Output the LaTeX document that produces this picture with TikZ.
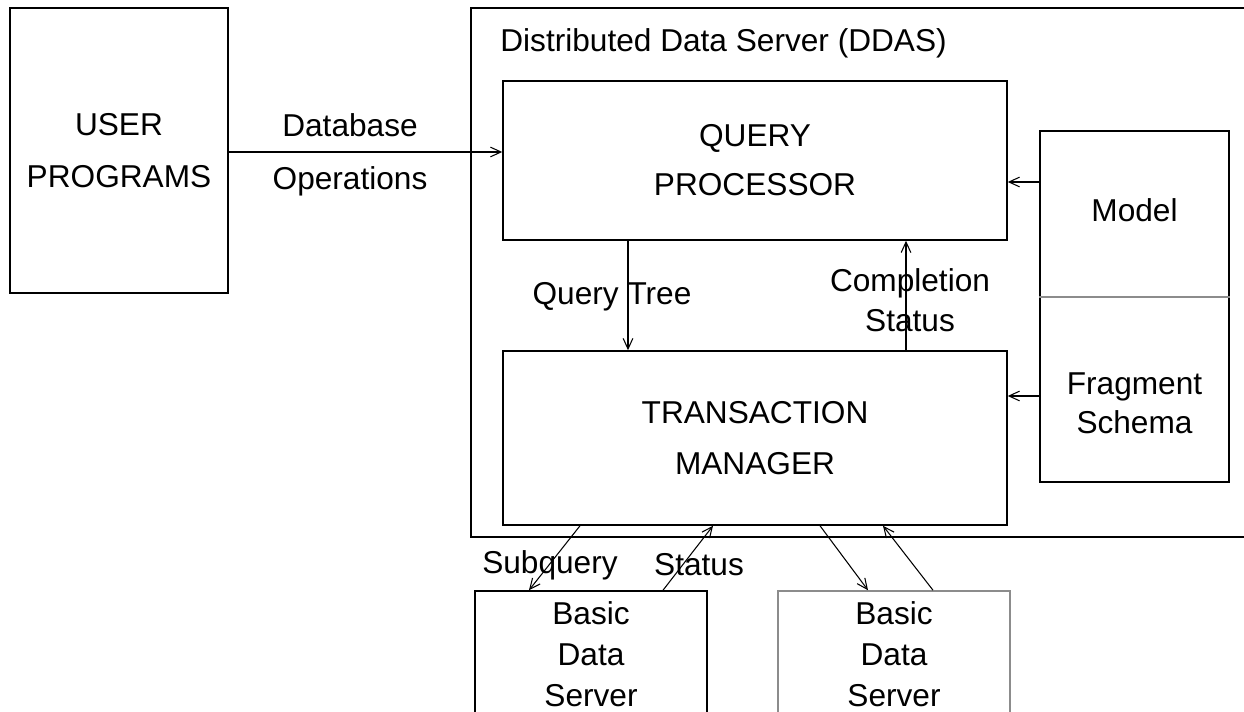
\documentclass[tikz,border=0pt]{standalone}
\usepackage{fontspec}
\setmainfont{Liberation Sans}
\usetikzlibrary{arrows.meta}

\newcommand\ddfont[1]{\fontsize{18}{#1}\selectfont}

\tikzset{
  box/.style={draw, rectangle, line width=0.9pt, inner sep=0pt, align=center},
  txt/.style={inner sep=0pt, align=center},
  flow/.style={line width=0.6pt, -{Straight Barb[length=6pt,width=5.5pt]}},
  divider/.style={line width=0.8pt, black!45}
}

\begin{document}
\begin{tikzpicture}
[x=0.02cm, y=-0.02cm]
\useasboundingbox (0,0) rectangle (1244,712);
\clip (0,0) rectangle (1244,712);

% outer server frame and its title
\path (865.5,272.5) node (ddas) [box, minimum width=15.78cm, minimum height=10.58cm] {}
      (500,43) node (title) [txt, anchor=west, font=\ddfont{22pt}] {Distributed Data Server (DDAS)};

% main boxes
\path (119,150.5) node (user) [box, minimum width=4.36cm, minimum height=5.7cm, font=\ddfont{30pt}] {USER\\PROGRAMS}
      (755,160.5) node (qp) [box, minimum width=10.08cm, minimum height=3.18cm, font=\ddfont{28pt}] {QUERY\\PROCESSOR}
      (755,438) node (tm) [box, minimum width=10.08cm, minimum height=3.48cm, font=\ddfont{29pt}] {TRANSACTION\\MANAGER}
      (1134.5,306.5) node (side) [box, minimum width=3.78cm, minimum height=7.02cm] {}
      (591,654) node (bdsa) [box, minimum width=4.64cm, minimum height=2.52cm, font=\ddfont{23.3pt}] {Basic\\Data\\Server}
      (894,654) node (bdsb) [box, draw=black!45, minimum width=4.64cm, minimum height=2.52cm, font=\ddfont{23.3pt}] {Basic\\Data\\Server};

% model / fragment schema column
\path (1134.5,210) node (model) [txt, font=\ddfont{22pt}] {Model}
      (1134.5,403) node (frag) [txt, font=\ddfont{22.3pt}] {Fragment\\Schema};
\draw [divider] (side.west |- 0,297) -- (side.east |- 0,297);

% connector labels
\path (350,155) node (dbops) [txt, font=\ddfont{30pt}] {Database\\Operations}
      (612,297) node (qtree) [txt, font=\ddfont{22pt}] {Query Tree}
      (910,300) node (cstat) [txt, font=\ddfont{22.8pt}] {Completion\\Status}
      (550,565) node (subq) [txt, font=\ddfont{22pt}] {Subquery}
      (699,565) node (bstat) [txt, font=\ddfont{22pt}] {Status};

% connectors
\draw [flow] (user.east |- 0,152) -- (qp.west |- 0,152);
\draw [flow] (side.west |- 0,182) -- (qp.east |- 0,182);
\draw [flow] (side.west |- 0,396) -- (tm.east |- 0,396);
\draw [flow] (qp.south -| 628,0) -- (tm.north -| 628,0);
\draw [flow] (tm.north -| 906,0) -- (qp.south -| 906,0);
\draw [flow] (tm.south -| 580,0) -- (bdsa.north -| 529,0);
\draw [flow] (bdsa.north -| 663,0) -- (tm.south -| 713,0);
\draw [flow] (tm.south -| 820,0) -- (bdsb.north -| 868,0);
\draw [flow] (bdsb.north -| 933,0) -- (tm.south -| 883,0);
\end{tikzpicture}
\end{document}
